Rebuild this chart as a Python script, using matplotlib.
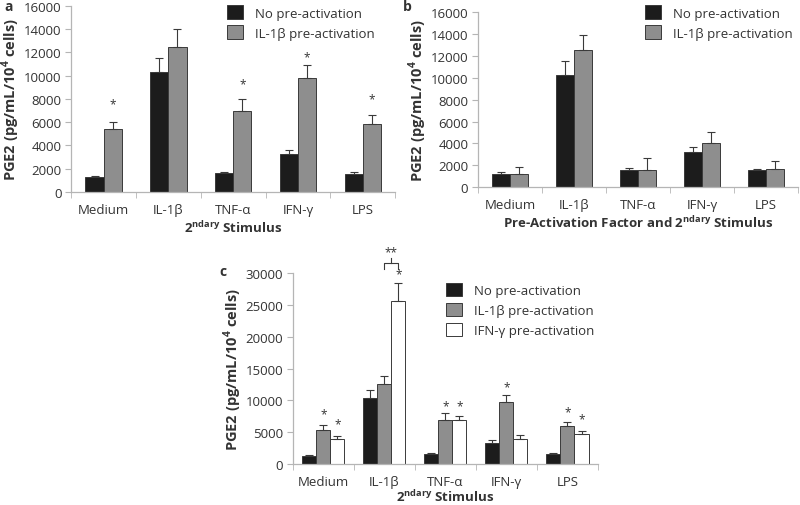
import matplotlib
matplotlib.use("Agg")
import matplotlib.pyplot as plt
import numpy as np
from matplotlib.patches import Patch

plt.rcParams["font.family"] = ["Open Sans", "DejaVu Sans"]
plt.rcParams["mathtext.fontset"] = "custom"
plt.rcParams["mathtext.rm"] = "Open Sans"
plt.rcParams["mathtext.bf"] = "Open Sans:bold"

categories = ["Medium", "IL-1β", "TNF-α", "IFN-γ", "LPS"]

# panel a
a_none = [1250, 10300, 1600, 3250, 1550]
a_none_err = [150, 1200, 150, 400, 150]
a_il1b = [5400, 12500, 6950, 9800, 5850]
a_il1b_err = [600, 1500, 1050, 1100, 750]
a_stars = [7600, None, 9300, 11600, 8000]

# panel b
b_none = [1250, 10300, 1600, 3250, 1550]
b_none_err = [150, 1200, 150, 400, 150]
b_il1b = [1250, 12500, 1550, 4000, 1650]
b_il1b_err = [600, 1450, 1100, 1050, 750]

# panel c
c_none = [1200, 10300, 1650, 3300, 1550]
c_none_err = [150, 1300, 150, 400, 150]
c_il1b = [5400, 12500, 6950, 9800, 5900]
c_il1b_err = [700, 1400, 1100, 1100, 700]
c_ifng = [3900, 25600, 6900, 4000, 4750]
c_ifng_err = [500, 2800, 700, 500, 450]
c_stars_il1b = [7850, None, 9150, 12100, 8150]
c_stars_ifng = [6300, 29800, 9150, None, 7050]

BLACK = "#1c1c1c"
GRAY = "#8e8e8e"
EDGE = "#3a3a3a"
TXT = "#333333"
SPINE = "#b5b5b5"

fig = plt.figure(figsize=(8, 5.06), dpi=100)


def style_axis(ax, ymax, step):
    n = len(categories)
    ax.set_xlim(0, n)
    ax.set_ylim(0, ymax)
    ax.set_yticks(np.arange(0, ymax + 1, step))
    ax.set_xticks(np.arange(n) + 0.5)
    ax.set_xticklabels(categories)
    ax.set_xticks(np.arange(n + 1), minor=True)
    ax.tick_params(axis="x", which="major", length=0, pad=8, labelsize=9.5, colors=TXT)
    ax.tick_params(axis="x", which="minor", length=4, color=SPINE, direction="out")
    ax.tick_params(axis="y", length=4, color=SPINE, labelsize=9.5, colors=TXT, pad=3)
    for s in ["top", "right"]:
        ax.spines[s].set_visible(False)
    for s in ["left", "bottom"]:
        ax.spines[s].set_color(SPINE)
        ax.spines[s].set_linewidth(0.9)
    ax.set_ylabel(r"PGE2 (pg/mL/10$^\mathbf{4}$ cells)", fontsize=10.5,
                  fontweight="bold", color=TXT, labelpad=1)


def bars(ax, offset, vals, errs, color, width):
    x = np.arange(len(categories)) + 0.5 + offset
    ax.bar(x, vals, width=width, color=color, edgecolor=EDGE, linewidth=0.7, zorder=2)
    ax.errorbar(x, vals, yerr=[np.zeros(len(vals)), errs], fmt="none",
                ecolor=EDGE, elinewidth=0.8, capsize=3, capthick=0.8, zorder=3)
    return x


def stars(ax, x, vals):
    for xi, v in zip(x, vals):
        if v is not None:
            ax.text(xi, v, "*", ha="center", va="center", fontsize=8.5, color=TXT)


def legend(ax, labels, colors, anchor):
    handles = [Patch(facecolor=c, edgecolor=EDGE, linewidth=0.7) for c in colors]
    ax.legend(handles, labels, loc="upper left", bbox_to_anchor=anchor,
              bbox_transform=fig.transFigure, frameon=False, fontsize=9.5,
              handlelength=1.2, handleheight=1.2, labelspacing=0.45,
              handletextpad=0.9, borderaxespad=0, labelcolor=TXT)


# ---- a
ax_a = fig.add_axes([0.089, 0.6186, 0.405, 0.3676])
w = 0.28
bars(ax_a, -w / 2, a_none, a_none_err, BLACK, w)
xa = bars(ax_a, w / 2, a_il1b, a_il1b_err, GRAY, w)
stars(ax_a, xa, a_stars)
style_axis(ax_a, 16000, 2000)
ax_a.set_xlabel(r"2$^\mathbf{ndary}$ Stimulus", fontsize=9.5, fontweight="bold",
                color=TXT, labelpad=2)
legend(ax_a, ["No pre-activation", "IL-1β pre-activation"], [BLACK, GRAY],
       (0.277, 0.998))
fig.text(0.006, 0.978, "a", fontsize=10, fontweight="bold", color=TXT)

# ---- b
ax_b = fig.add_axes([0.5975, 0.628, 0.40, 0.346])
bars(ax_b, -w / 2, b_none, b_none_err, BLACK, w)
bars(ax_b, w / 2, b_il1b, b_il1b_err, GRAY, w)
style_axis(ax_b, 16000, 2000)
ax_b.set_xlabel(r"Pre-Activation Factor and 2$^\mathbf{ndary}$ Stimulus", fontsize=9.5,
                fontweight="bold", color=TXT, labelpad=2)
legend(ax_b, ["No pre-activation", "IL-1β pre-activation"], [BLACK, GRAY],
       (0.800, 0.998))
fig.text(0.503, 0.978, "b", fontsize=10, fontweight="bold", color=TXT)

# ---- c
ax_c = fig.add_axes([0.366, 0.081, 0.3815, 0.3775])
wc = 0.23
bars(ax_c, -wc, c_none, c_none_err, BLACK, wc)
xc2 = bars(ax_c, 0, c_il1b, c_il1b_err, GRAY, wc)
xc3 = bars(ax_c, wc, c_ifng, c_ifng_err, "white", wc)
stars(ax_c, xc2, c_stars_il1b)
stars(ax_c, xc3, c_stars_ifng)
style_axis(ax_c, 30000, 5000)
ax_c.set_xlabel(r"2$^\mathbf{ndary}$ Stimulus", fontsize=9.5, fontweight="bold",
                color=TXT, labelpad=0)
# bracket between IL-1b and IFN-g pre-activation for IL-1b stimulus
bx0, bx1 = xc2[1], xc3[1]
ax_c.plot([bx0, bx0, bx1, bx1], [30700, 31500, 31500, 30700], color=EDGE,
          lw=0.8, clip_on=False)
ax_c.plot([(bx0 + bx1) / 2] * 2, [31500, 32300], color=EDGE, lw=0.8, clip_on=False)
ax_c.text((bx0 + bx1) / 2, 33300, "**", ha="center", va="center", fontsize=8.5,
          color=TXT)
legend(ax_c, ["No pre-activation", "IL-1β pre-activation", "IFN-γ pre-activation"],
       [BLACK, GRAY, "white"], (0.551, 0.45))
fig.text(0.274, 0.455, "c", fontsize=10, fontweight="bold", color=TXT)

fig.savefig("out.png", dpi=100)
